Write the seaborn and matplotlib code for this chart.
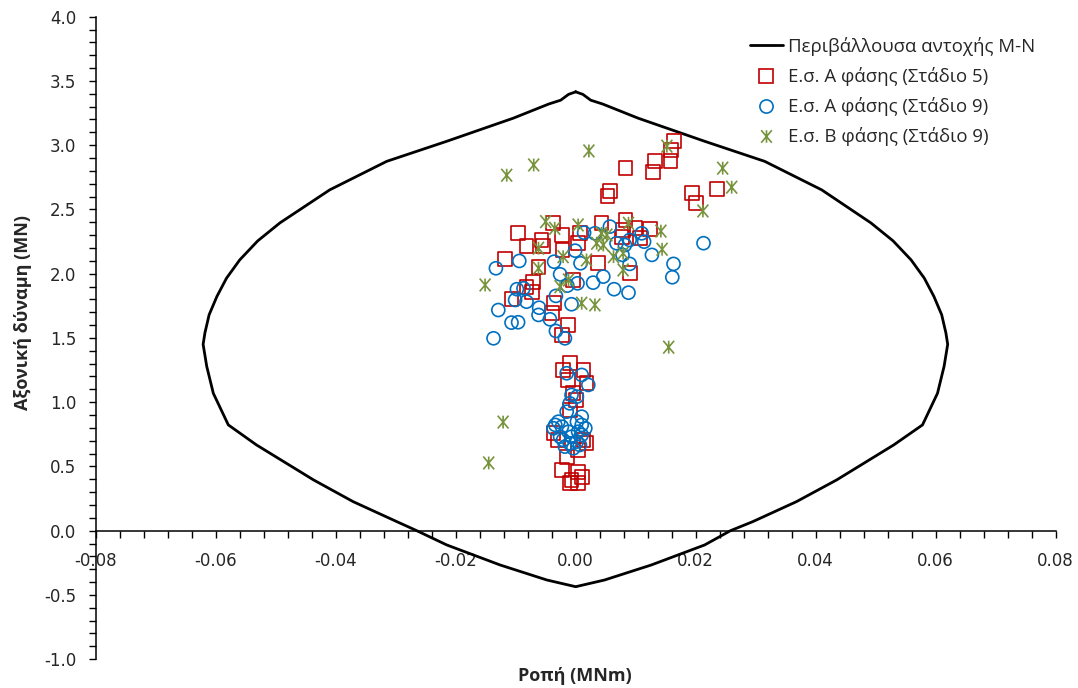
import matplotlib
matplotlib.use("Agg")
import matplotlib.pyplot as plt
from matplotlib.path import Path
from matplotlib.ticker import MultipleLocator, FormatStrFormatter
from matplotlib.lines import Line2D
import seaborn as sns

# ---------------- data ----------------
envelope_m = [0.0, -0.0012, -0.0025, -0.0045, -0.0104, -0.0215, -0.0315, -0.041, -0.0493,
              -0.0530, -0.056, -0.0582, -0.0598, -0.0611, -0.0618, -0.0621, -0.0615, -0.0604,
              -0.0579, -0.0532, -0.0437, -0.0371, -0.0298, -0.0265, -0.0215, -0.0126, -0.0048, 0.0,
              0.0048, 0.0126, 0.0215, 0.0258, 0.0295, 0.0368, 0.0435, 0.053, 0.0578, 0.0603,
              0.0614, 0.062, 0.0617, 0.0610, 0.0597, 0.0581, 0.0559, 0.0529, 0.0492, 0.041,
              0.0315, 0.0215, 0.0104, 0.0045, 0.0025, 0.0012, 0.0]
envelope_n = [3.415, 3.395, 3.35, 3.32, 3.21, 3.03, 2.874, 2.652, 2.395,
              2.255, 2.107, 1.965, 1.823, 1.68, 1.539, 1.45, 1.279, 1.069,
              0.823, 0.667, 0.395, 0.226, 0.07, 0.0, -0.111, -0.267, -0.384, -0.436,
              -0.384, -0.267, -0.111, 0.0, 0.07, 0.226, 0.395, 0.667, 0.823, 1.069,
              1.279, 1.45, 1.539, 1.68, 1.823, 1.965, 2.107, 2.255, 2.395, 2.652,
              2.874, 3.03, 3.21, 3.32, 3.35, 3.395, 3.415]

stage5_m = [0.0164, 0.0159, 0.0158, 0.0132, 0.0129, 0.0083, 0.0057, 0.0053, 0.0194, 0.0235, 0.0200,
            -0.0096, -0.0038, -0.0023, -0.0057, -0.0082, -0.0054, -0.0022, 0.0007, 0.0004, 0.0043,
            0.0083, 0.0079, 0.0099, 0.0124, 0.0107, 0.0077, -0.0118, -0.0062, 0.0037, 0.0091,
            -0.0004, -0.0071, -0.0082, -0.0073, -0.0107, -0.0036, -0.0040, -0.0013, -0.0023,
            -0.0010, 0.0013, -0.0021, -0.0013, 0.0018, -0.0004, 0.0000, -0.0010, -0.0037, -0.0029,
            0.0013, 0.0018, 0.0004, -0.0015, -0.0023, 0.0004, -0.0007, 0.0004, -0.0010, 0.0010]
stage5_n = [3.03, 2.963, 2.877, 2.877, 2.794, 2.82, 2.646, 2.607, 2.626, 2.657, 2.548,
            2.319, 2.392, 2.301, 2.262, 2.216, 2.216, 2.184, 2.314, 2.241, 2.397,
            2.418, 2.34, 2.353, 2.346, 2.276, 2.283, 2.112, 2.05, 2.081, 2.008,
            1.951, 1.938, 1.899, 1.86, 1.80, 1.774, 1.697, 1.601, 1.523,
            1.303, 1.25, 1.25, 1.173, 1.152, 1.069, 1.017, 0.939, 0.758, 0.706,
            0.706, 0.68, 0.628, 0.576, 0.472, 0.459, 0.395, 0.369, 0.369, 0.42]

stage9a_m = [0.0213, 0.0163, 0.0161, 0.0127, 0.0110, 0.0114, 0.0090, 0.0088, 0.0064, 0.0046,
             0.0029, 0.0057, 0.0068, 0.0082, 0.0078, 0.0090, 0.0014, 0.0032, 0.0008, -0.0001,
             -0.0036, -0.0026, 0.0003, -0.0014, -0.0094, -0.0133, -0.0098, -0.0087, -0.0101,
             -0.0082, -0.0129, -0.0061, -0.0062, -0.0043, -0.0107, -0.0096, -0.0033, -0.0137,
             -0.0018, -0.0033, -0.0007,
             -0.0015, 0.0010, 0.0021, -0.0007, 0.0002, -0.0010, -0.0015, 0.0010, 0.0002, -0.0034,
             -0.0023, 0.0010, -0.0012, 0.0004, -0.0037, -0.0026, -0.0007, 0.0010, -0.0021,
             -0.0010, 0.0002, -0.0018, -0.0004, 0.0007, 0.0016, -0.0029]
stage9a_n = [2.237, 2.076, 1.972, 2.146, 2.314, 2.249, 2.076, 1.852, 1.879, 1.977,
             1.93, 2.366, 2.237, 2.223, 2.146, 2.262, 2.319, 2.314, 2.081, 2.179,
             2.093, 1.995, 1.925, 1.907, 2.099, 2.042, 1.879, 1.886, 1.795,
             1.782, 1.717, 1.735, 1.679, 1.645, 1.619, 1.622, 1.554, 1.497,
             1.497, 1.827, 1.762,
             1.225, 1.212, 1.134, 1.056, 1.043, 0.991, 0.926, 0.887, 0.848, 0.823,
             0.809, 0.823, 0.77, 0.77, 0.797, 0.731, 0.731, 0.745, 0.706,
             0.68, 0.693, 0.654, 0.641, 0.667, 0.797, 0.848]

stage9b_m = [-0.0115, -0.0070, 0.0022, 0.0152, 0.0245, 0.0260, 0.0212, 0.0142, 0.0144, 0.0155,
             -0.0151, -0.0121, -0.0145,
             -0.0050, -0.0035, 0.0004, 0.0043, 0.0052, 0.0088, -0.0062, 0.0035, 0.0046, 0.0018,
             0.0063, 0.0079, 0.0079, -0.0021, -0.0062, -0.0012, -0.0026, 0.0010, 0.0032]
stage9b_n = [2.766, 2.846, 2.955, 2.992, 2.821, 2.673, 2.488, 2.331, 2.19, 1.428,
             1.912, 0.845, 0.527,
             2.405, 2.353, 2.379, 2.314, 2.301, 2.392, 2.198, 2.237, 2.223, 2.107,
             2.132, 2.159, 2.029, 2.132, 2.042, 1.951, 1.899, 1.77, 1.757]

labels = ["Περιβάλλουσα αντοχής M-N", "Ε.σ. Α φάσης (Στάδιο 5)",
          "Ε.σ. Α φάσης (Στάδιο 9)", "Ε.σ. Β φάσης (Στάδιο 9)"]
xlabel = "Ροπή (MNm)"
ylabel = "Αξονική δύναμη (MN)"

# ---------------- style ----------------
sns.set_theme(style="white")
plt.rcParams["font.family"] = ["DejaVu Sans"]
plt.rcParams["axes.unicode_minus"] = False

RED = "#C00000"
BLUE = "#0070C0"
GREEN = "#77933C"

star = Path([(0, -1), (0, 1), (-0.85, -1), (0.85, 1), (-0.85, 1), (0.85, -1)],
            [Path.MOVETO, Path.LINETO, Path.MOVETO, Path.LINETO, Path.MOVETO, Path.LINETO])

fig = plt.figure(figsize=(10.78, 6.88), dpi=100)
ax = fig.add_axes([0.0888, 0.0419, 0.8905, 0.9339])

sns.lineplot(x=envelope_m, y=envelope_n, sort=False, estimator=None, color="black",
             linewidth=2.0, ax=ax, zorder=2)
sns.scatterplot(x=stage5_m, y=stage5_n, marker="s", s=100, facecolors="none",
                edgecolor=RED, linewidth=1.2, ax=ax, zorder=3)
sns.scatterplot(x=stage9a_m, y=stage9a_n, marker="o", s=88, facecolors="none",
                edgecolor=BLUE, linewidth=1.2, ax=ax, zorder=4)
sns.scatterplot(x=stage9b_m, y=stage9b_n, marker=star, s=85, facecolors="none",
                edgecolor=GREEN, linewidth=1.2, ax=ax, zorder=5)

ax.set_xlim(-0.08, 0.08)
ax.set_ylim(-1.0, 4.0)
ax.spines["top"].set_visible(False)
ax.spines["right"].set_visible(False)
ax.spines["bottom"].set_position(("data", 0))
for s in ("left", "bottom"):
    ax.spines[s].set_color("black")
    ax.spines[s].set_linewidth(1.1)

ax.xaxis.set_major_locator(MultipleLocator(0.02))
ax.xaxis.set_minor_locator(MultipleLocator(0.004))
ax.yaxis.set_major_locator(MultipleLocator(0.5))
ax.yaxis.set_minor_locator(MultipleLocator(0.1))
ax.xaxis.set_major_formatter(FormatStrFormatter("%.2f"))
ax.yaxis.set_major_formatter(FormatStrFormatter("%.1f"))
ax.tick_params(which="both", direction="out", length=5, width=1.0, color="black",
               bottom=True, left=True)
ax.tick_params(axis="x", which="major", labelsize=12, pad=10)
ax.tick_params(axis="y", which="major", labelsize=12, pad=9)

ax.set_xlabel(xlabel, fontsize=13, fontweight="bold", family=["Open Sans", "DejaVu Sans"])
ax.xaxis.set_label_coords(0.499, -0.012)
ax.set_ylabel(ylabel, fontsize=13, fontweight="bold", family=["Open Sans", "DejaVu Sans"])
ax.yaxis.set_label_coords(-0.066, 0.54)

handles = [
    Line2D([], [], color="black", linewidth=2.0),
    Line2D([], [], linestyle="none", marker="s", markersize=9.5, markerfacecolor="none",
           markeredgecolor=RED, markeredgewidth=1.2),
    Line2D([], [], linestyle="none", marker="o", markersize=9.5, markerfacecolor="none",
           markeredgecolor=BLUE, markeredgewidth=1.2),
    Line2D([], [], linestyle="none", marker=star, markersize=9, markerfacecolor="none",
           markeredgecolor=GREEN, markeredgewidth=1.2),
]
leg = ax.legend(handles, labels, loc="upper left", bbox_to_anchor=(750 / 1078, 1 - 37 / 688),
                bbox_transform=fig.transFigure, frameon=False, handlelength=1.75,
                handletextpad=0.3, labelspacing=0.6, borderpad=0, borderaxespad=0,
                prop={"family": ["Open Sans", "DejaVu Sans"], "size": 13.4})

fig.savefig("out.png", dpi=100, facecolor="white")
